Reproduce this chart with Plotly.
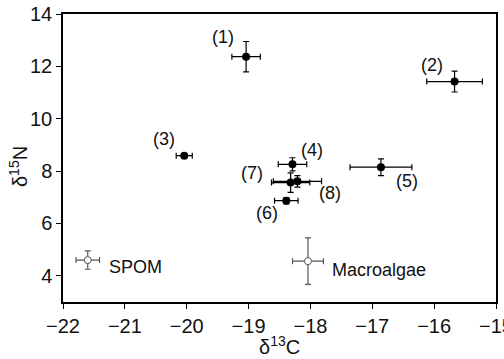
import plotly.graph_objects as go

# Consumers (numbered groups)
labels = ["(1)", "(2)", "(3)", "(4)", "(5)", "(6)", "(7)", "(8)"]
d13c = [-19.04, -15.67, -20.04, -18.29, -16.86, -18.39, -18.32, -18.21]
d13c_err = [0.23, 0.45, 0.13, 0.23, 0.50, 0.19, 0.31, 0.39]
d15n = [12.37, 11.42, 8.59, 8.26, 8.15, 6.87, 7.56, 7.61]
d15n_err = [0.58, 0.40, 0.07, 0.25, 0.32, 0.12, 0.37, 0.22]
label_x = [-19.42, -16.04, -20.37, -17.98, -16.44, -18.71, -18.95, -17.68]
label_y = [13.11, 12.05, 9.22, 8.81, 7.63, 6.39, 7.92, 7.16]

# Sources
src_names = ["SPOM", "Macroalgae"]
src_d13c = [-21.60, -18.04]
src_d13c_err = [0.19, 0.25]
src_d15n = [4.60, 4.56]
src_d15n_err = [0.35, 0.89]
src_label_x = [-21.29, -17.68]
src_label_y = [4.34, 4.23]

x_ticks = [-22, -21, -20, -19, -18, -17, -16, -15]
y_ticks = [4, 6, 8, 10, 12, 14]

FONT = "Liberation Sans, Arial, sans-serif"
TXT = "#111111"

fig = go.Figure()
fig.add_trace(go.Scatter(
    x=d13c, y=d15n, mode="markers",
    marker=dict(color="black", size=8),
    error_x=dict(type="data", array=d13c_err, color="black", thickness=1.2, width=3),
    error_y=dict(type="data", array=d15n_err, color="black", thickness=1.2, width=3),
    showlegend=False, hoverinfo="skip",
))
fig.add_trace(go.Scatter(
    x=src_d13c, y=src_d15n, mode="markers",
    marker=dict(color="white", size=7, line=dict(color="#555555", width=1)),
    error_x=dict(type="data", array=src_d13c_err, color="#555555", thickness=1.2, width=3),
    error_y=dict(type="data", array=src_d15n_err, color="#555555", thickness=1.2, width=3),
    showlegend=False, hoverinfo="skip",
))

for t, x, y in zip(labels, label_x, label_y):
    fig.add_annotation(x=x, y=y, text=t, showarrow=False,
                       font=dict(size=18, color=TXT, family=FONT))
for t, x, y in zip(src_names, src_label_x, src_label_y):
    fig.add_annotation(x=x, y=y, text=t, showarrow=False, xanchor="left",
                       font=dict(size=18, color=TXT, family=FONT))

# Axis titles
fig.add_annotation(x=0.499, y=-0.15, xref="paper", yref="paper", text="δ<sup>13</sup>C",
                   showarrow=False, xanchor="center", yanchor="middle",
                   font=dict(size=20, color=TXT, family=FONT))
fig.add_annotation(x=-0.104, y=0.472, xref="paper", yref="paper", text="δ<sup>15</sup>N",
                   showarrow=False, xanchor="center", yanchor="middle", textangle=-90,
                   font=dict(size=20, color=TXT, family=FONT))

axis_common = dict(showgrid=False, zeroline=False, showline=True, linecolor="black",
                   linewidth=1.5, mirror=True, ticks="outside", ticklen=5, tickwidth=1.2,
                   tickcolor="black", ticklabeloverflow="allow", automargin=False,
                   tickfont=dict(size=20, color=TXT, family=FONT))

fig.update_xaxes(range=[-22, -15], tickvals=x_ticks, **axis_common)
fig.update_yaxes(range=[3, 14], tickvals=y_ticks, **axis_common)

fig.update_layout(
    width=504, height=359,
    margin=dict(l=63, r=8, t=14, b=57),
    plot_bgcolor="white", paper_bgcolor="white",
)

fig.write_html("out.html", config={"displayModeBar": False},
               post_script="document.body.style.margin='0';document.body.style.overflow='hidden';")
